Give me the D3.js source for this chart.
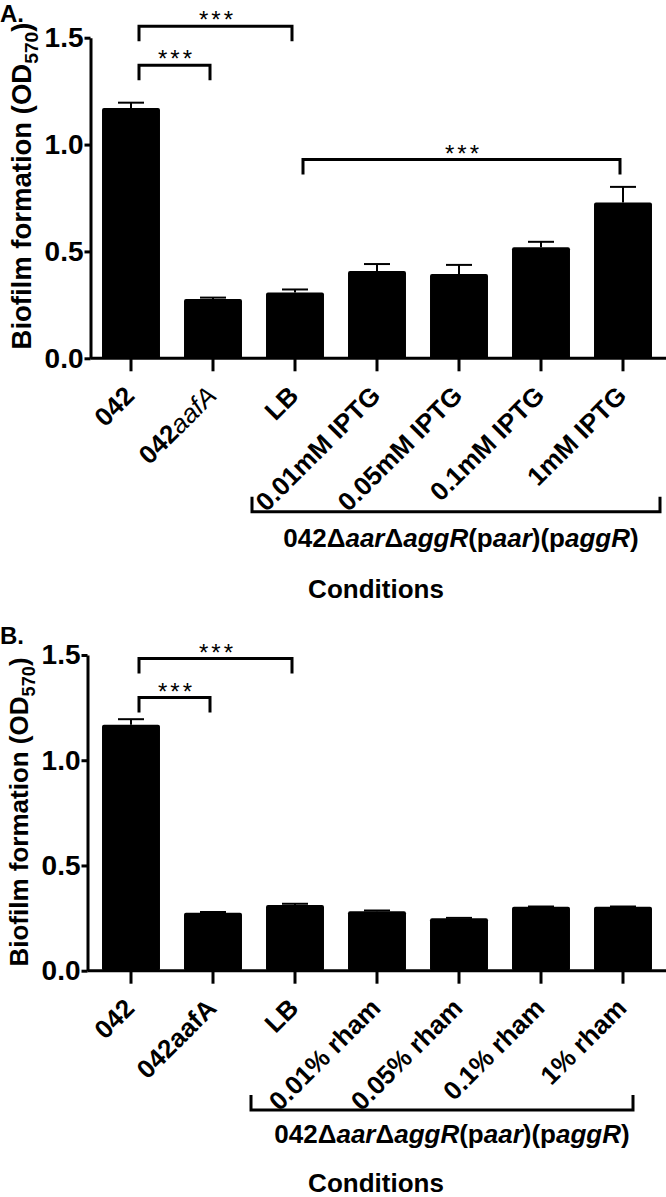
<!DOCTYPE html>
<html>
<head>
  <meta charset="utf-8">
  <title>Biofilm formation</title>
  <style>
    body {
      margin: 0;
      background-color: #fff;
    }

    svg {
      display: block;
      font-family: "Liberation Sans", Arial, sans-serif;
    }

    .axis path,
    .axis line {
      stroke: #000;
      stroke-width: 3px;
    }

    .axis text {
      font-size: 26px;
      font-weight: bold;
      fill: #000;
    }

    .yaxis text {
      font-size: 28px;
    }

    .bar {
      fill: #000;
    }

    .err {
      stroke: #000;
      stroke-width: 2px;
    }

    .bracket {
      fill: none;
      stroke: #000;
      stroke-width: 3px;
    }

    .stars {
      font-size: 24px;
      letter-spacing: 3px;
    }

    .title {
      font-size: 26px;
      font-weight: bold;
    }
  </style>
</head>

<body>
  <div id="chart"></div>
  <script src="https://d3js.org/d3.v7.min.js"></script>
  <script>
    // panel A: IPTG induction
    var categoriesA = ["042", "042aafA", "LB", "0.01mM IPTG", "0.05mM IPTG", "0.1mM IPTG", "1mM IPTG"];
    var meansA = [1.171, 0.278, 0.308, 0.408, 0.394, 0.520, 0.729];
    var errorsA = [0.025, 0.006, 0.014, 0.033, 0.043, 0.025, 0.073];

    // panel B: rhamnose induction
    var categoriesB = ["042", "042aafA", "LB", "0.01% rham", "0.05% rham", "0.1% rham", "1% rham"];
    var meansB = [1.169, 0.275, 0.312, 0.283, 0.249, 0.304, 0.304];
    var errorsB = [0.026, 0.004, 0.006, 0.003, 0.002, 0.001, 0.001];

    var yTicks = [0, 0.5, 1.0, 1.5];

    // significance brackets: [from bar, to bar, height in OD units]
    var bracketsA = [[0, 2, 1.554], [0, 1, 1.371], [2, 6, 0.930]];
    var bracketsB = [[0, 2, 1.483], [0, 1, 1.298]];

    // strain name under the grouped bars: [text, italic]
    var strainParts = [["042", false], ["\u0394", false], ["aar", true], ["\u0394", false], ["aggR", true],
      ["(p", false], ["aar", true], [")(p", false], ["aggR", true], [")", false]];

    var W = 666,
      H = 1197;

    var svg = d3.select("#chart").append("svg")
      .attr("width", W)
      .attr("height", H);

    function drawPanel(p) {
      var g = svg.append("g");

      var x = d3.scaleBand()
        .domain(p.categories)
        .range([90, 664])
        .paddingInner(0.293)
        .paddingOuter(0.1465);

      var y = d3.scaleLinear()
        .domain([0, 1.5])
        .range([p.bottom, p.top]);

      var cx = function(i) {
        return x(p.categories[i]) + x.bandwidth() / 2;
      };

      // bars
      g.selectAll("rect.bar")
        .data(p.means)
        .enter().append("rect")
        .attr("class", "bar")
        .attr("x", (d, i) => x(p.categories[i]))
        .attr("y", d => y(d))
        .attr("width", x.bandwidth())
        .attr("height", d => y(0) - y(d))
        .attr("rx", 2);

      // upper error bars
      var eb = g.selectAll("g.eb")
        .data(p.means)
        .enter().append("g")
        .attr("class", "eb");
      eb.append("line")
        .attr("class", "err")
        .attr("x1", (d, i) => cx(i))
        .attr("x2", (d, i) => cx(i))
        .attr("y1", d => y(d))
        .attr("y2", (d, i) => y(d + p.errors[i]));
      eb.append("line")
        .attr("class", "err")
        .attr("x1", (d, i) => cx(i) - 13)
        .attr("x2", (d, i) => cx(i) + 13)
        .attr("y1", (d, i) => y(d + p.errors[i]))
        .attr("y2", (d, i) => y(d + p.errors[i]));

      // x axis
      var xAxis = g.append("g")
        .attr("class", "axis")
        .attr("transform", "translate(0," + y(0) + ")")
        .call(d3.axisBottom(x).tickSize(13).tickSizeOuter(0));
      xAxis.select(".domain").remove();
      xAxis.append("line")
        .attr("x1", p.left)
        .attr("x2", W)
        .attr("y1", 0)
        .attr("y2", 0);
      xAxis.selectAll(".tick text")
        .attr("x", 0)
        .attr("y", 0)
        .attr("dy", 0)
        .attr("text-anchor", "end")
        .attr("transform", "translate(5,39) rotate(-45)");

      if (p.italicTick) {
        var t = xAxis.selectAll(".tick text").filter((d, i) => i === 1);
        t.text(null);
        t.append("tspan").text("042");
        t.append("tspan")
          .style("font-style", "italic")
          .style("font-weight", "normal")
          .text("aafA");
      }

      // y axis
      g.append("g")
        .attr("class", "axis yaxis")
        .attr("transform", "translate(" + p.left + ",0)")
        .call(d3.axisLeft(y).tickValues(yTicks).tickFormat(d3.format(".1f"))
          .tickSize(6).tickSizeOuter(0).tickPadding(p.tickPad));

      // significance brackets
      p.brackets.forEach(function(b) {
        var x1 = cx(b[0]) + 8,
          x2 = cx(b[1]) - 3,
          yb = y(b[2]),
          leg = 15;
        g.append("path")
          .attr("class", "bracket")
          .attr("d", "M" + x1 + "," + (yb + leg) + "V" + yb + "H" + x2 + "V" + (yb + leg));
        g.append("text")
          .attr("class", "stars")
          .attr("x", (x1 + x2) / 2 + 2)
          .attr("y", yb + 2)
          .attr("text-anchor", "middle")
          .text("***");
      });

      // group bracket for the induced strain
      var gy = p.groupY;
      g.append("path")
        .attr("class", "bracket")
        .attr("d", "M" + p.groupLeft + "," + (gy - 15) + "V" + gy + "H" + p.groupRight + "V" + (gy - 15));

      var st = g.append("text")
        .attr("class", "title")
        .attr("x", p.groupTextX)
        .attr("y", p.groupTextY)
        .attr("text-anchor", "middle");
      strainParts.forEach(function(s) {
        st.append("tspan")
          .style("font-style", s[1] ? "italic" : "normal")
          .text(s[0]);
      });

      g.append("text")
        .attr("class", "title")
        .attr("x", 376)
        .attr("y", p.condY)
        .attr("text-anchor", "middle")
        .text("Conditions");

      // y title
      var yt = g.append("text")
        .attr("class", "title")
        .style("font-size", p.yTitleSize + "px")
        .attr("text-anchor", "middle")
        .attr("transform", "translate(" + p.yTitleX + "," + p.yTitleY + ") rotate(-90)");
      yt.append("tspan").text("Biofilm formation (OD");
      yt.append("tspan")
        .style("font-size", "0.7em")
        .attr("dy", p.yTitleSize * 0.25)
        .text("570");
      yt.append("tspan")
        .attr("dy", -p.yTitleSize * 0.25)
        .text(")");

      // panel letter
      g.append("text")
        .attr("class", "title")
        .style("font-size", "24px")
        .attr("x", 0)
        .attr("y", p.letterY)
        .text(p.letter);
    }

    drawPanel({
      letter: "A.",
      letterY: 22,
      categories: categoriesA,
      means: meansA,
      errors: errorsA,
      brackets: bracketsA,
      italicTick: true,
      top: 37.7,
      bottom: 358.3,
      left: 90.5,
      tickPad: 1,
      yTitleX: 31,
      yTitleY: 186,
      yTitleSize: 27.5,
      groupLeft: 252,
      groupRight: 660,
      groupY: 511.7,
      groupTextX: 461,
      groupTextY: 546.7,
      condY: 598.3
    });

    drawPanel({
      letter: "B.",
      letterY: 643.5,
      categories: categoriesB,
      means: meansB,
      errors: errorsB,
      brackets: bracketsB,
      italicTick: false,
      top: 655,
      bottom: 970.7,
      left: 87.5,
      tickPad: 1,
      yTitleX: 28,
      yTitleY: 812,
      yTitleSize: 26,
      groupLeft: 251,
      groupRight: 633,
      groupY: 1110,
      groupTextX: 452,
      groupTextY: 1143.3,
      condY: 1192
    });
  </script>
</body>

</html>
